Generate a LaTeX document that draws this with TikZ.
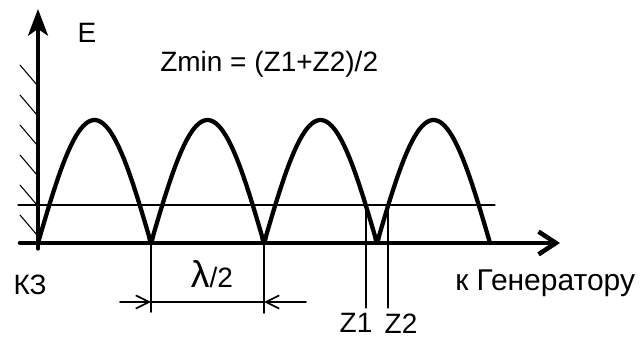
\documentclass[tikz,border=0pt]{standalone}
\usepackage{fontspec}
\setmainfont{Liberation Sans}
\usetikzlibrary{arrows.meta}

\begin{document}
\begin{tikzpicture}[x=0.75pt, y=-0.75pt, line cap=round, line join=round,
    wave/.style={line width=3.2pt},
    thinline/.style={line width=0.8pt},
    dimline/.style={line width=1.3pt},
    lbl/.style={inner sep=0pt, font=\fontsize{21}{24}\selectfont}]
    \useasboundingbox (0,0) rectangle (643,338);

    % Axes: origin at the short circuit end
    \coordinate (O) at (38,243);
    \coordinate (ytip) at (38,9);
    \coordinate (xtip) at (560,243);
    \draw[line width=2.4pt, -{Stealth[length=20pt, width=15pt, inset=5pt]}] (38,249) -- (ytip);
    \draw[line width=3.4pt, -{Straight Barb[length=13pt, width=17pt]}] (20,243) -- (xtip);

    % Hatching of the short circuit wall
    \foreach \yy in {85,115,145,175,205,235}
        \draw[thinline] (20,\yy-20) -- (37,\yy);

    % Level line that cuts the minimum
    \draw[thinline] (18,205) -- (495,205);

    % Standing wave |sin|, half wavelength 113
    \draw[wave] plot[domain=38:490, samples=181, smooth]
        (\x, {243-123*abs(sin((\x-38)/113*180))});

    % Z1 and Z2 marks
    \coordinate (zone) at (366,205);
    \coordinate (ztwo) at (388,205);
    \draw[thinline] (zone) -- (366,308);
    \draw[thinline] (ztwo) -- (388,308);
    \node[lbl] (lblZone) at (356,323) {Z1};
    \node[lbl] (lblZtwo) at (401,324) {Z2};

    % Half wavelength dimension
    \coordinate (na) at (151,243);
    \coordinate (nb) at (264,243);
    \draw[dimline] (na) -- (151,312);
    \draw[dimline] (nb) -- (264,313);
    \draw[dimline, -{Straight Barb[length=10pt, width=10pt]}] (120,302) -- (151,302);
    \draw[dimline] (151,302) -- (264,302);
    \draw[dimline, -{Straight Barb[length=10pt, width=10pt]}] (306,302) -- (264,302);
    \node[lbl] (lblLambda) at (212,274) {{\fontsize{28}{28}\selectfont λ}/2};

    % Labels
    \node[lbl] (lblE) at (87,33) {E};
    \node[lbl, anchor=west] (lblZmin) at (160,64) {Zmin = (Z1+Z2)/2};
    \node[lbl] (lblKZ) at (30,285) {КЗ};
    \node[lbl, anchor=west, font=\fontsize{22.5}{26}\selectfont] (lblGen) at (455,283) {к Генератору};
\end{tikzpicture}
\end{document}
